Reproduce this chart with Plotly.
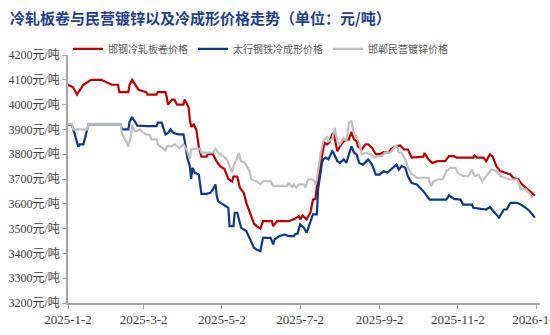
import plotly.graph_objects as go

# ---------------- data ----------------
red_name = "邯钢冷轧板卷价格"
red_dates = ["2025-01-02","2025-01-06","2025-01-09","2025-01-14","2025-01-20","2025-01-28","2025-02-05","2025-02-10",
             "2025-02-11","2025-02-18","2025-02-19","2025-02-21","2025-02-26","2025-03-04","2025-03-05","2025-03-12",
             "2025-03-13","2025-03-19","2025-03-20","2025-03-21","2025-03-24","2025-03-26","2025-03-28","2025-04-02",
             "2025-04-03","2025-04-06","2025-04-07","2025-04-08","2025-04-10","2025-04-12","2025-04-14","2025-04-16",
             "2025-04-20","2025-04-21","2025-04-25","2025-04-28","2025-05-01","2025-05-04","2025-05-07","2025-05-10",
             "2025-05-11","2025-05-14","2025-05-16","2025-05-19","2025-05-21","2025-05-24","2025-05-27","2025-05-29",
             "2025-06-01","2025-06-03","2025-06-10","2025-06-11","2025-06-14","2025-06-23","2025-06-28","2025-07-01",
             "2025-07-02","2025-07-04","2025-07-07","2025-07-10","2025-07-12","2025-07-14","2025-07-15","2025-07-18",
             "2025-07-20","2025-07-21","2025-07-23","2025-07-25","2025-07-27","2025-07-28","2025-07-31","2025-08-02",
             "2025-08-05","2025-08-09","2025-08-11","2025-08-13","2025-08-15","2025-08-16","2025-08-19","2025-08-22",
             "2025-08-24","2025-08-27","2025-08-30","2025-09-02","2025-09-05","2025-09-09","2025-09-11","2025-09-15",
             "2025-09-18","2025-09-21","2025-09-24","2025-09-27","2025-10-06","2025-10-07","2025-10-10","2025-10-13",
             "2025-10-17","2025-10-23","2025-10-26","2025-10-30","2025-11-01","2025-11-14","2025-11-15","2025-11-17",
             "2025-11-22","2025-11-24","2025-11-27","2025-11-29","2025-12-02","2025-12-05","2025-12-09","2025-12-13",
             "2025-12-15","2025-12-19","2025-12-22","2025-12-26","2025-12-28","2026-01-01"]
red_vals = [4080,4070,4040,4080,4100,4100,4080,4080,
            4050,4050,4080,4100,4060,4050,4040,4040,
            4050,4050,4030,4000,4020,4020,4000,4000,
            4020,3990,3940,3910,3920,3900,3830,3790,
            3790,3800,3800,3770,3750,3740,3700,3690,
            3710,3710,3665,3645,3605,3565,3520,3510,
            3500,3530,3530,3510,3530,3530,3540,3550,
            3537,3553,3537,3564,3617,3620,3670,3765,
            3832,3846,3840,3850,3880,3886,3812,3832,
            3852,3860,3890,3860,3852,3832,3819,3840,
            3840,3826,3800,3800,3808,3806,3822,3832,
            3835,3819,3819,3786,3790,3805,3779,3765,
            3772,3772,3792,3792,3786,3786,3795,3786,
            3786,3772,3800,3790,3752,3732,3725,3718,
            3705,3698,3678,3658,3651,3634]

blue_name = "太行钢铁冷成形价格"
blue_dates = ["2025-01-02","2025-01-05","2025-01-07","2025-01-09","2025-01-10","2025-01-11","2025-01-14","2025-01-16",
              "2025-01-18","2025-02-12","2025-02-13","2025-02-18","2025-02-19","2025-02-21","2025-02-23","2025-02-25",
              "2025-03-04","2025-03-12","2025-03-13","2025-03-16","2025-03-19","2025-03-21","2025-03-23","2025-03-25",
              "2025-03-29","2025-04-02","2025-04-03","2025-04-05","2025-04-07","2025-04-08","2025-04-09","2025-04-11",
              "2025-04-14","2025-04-16","2025-04-20","2025-04-23","2025-04-25","2025-04-27","2025-04-28","2025-04-29",
              "2025-05-03","2025-05-07","2025-05-08","2025-05-11","2025-05-12","2025-05-14","2025-05-16","2025-05-17",
              "2025-05-21","2025-05-24","2025-05-27","2025-05-29","2025-06-01","2025-06-03","2025-06-09","2025-06-11",
              "2025-06-12","2025-06-16","2025-06-20","2025-06-23","2025-06-27","2025-06-28","2025-06-30","2025-07-02",
              "2025-07-05","2025-07-07","2025-07-10","2025-07-12","2025-07-15","2025-07-16","2025-07-19","2025-07-20",
              "2025-07-22","2025-07-24","2025-07-27","2025-07-28","2025-07-31","2025-08-02","2025-08-05","2025-08-07",
              "2025-08-11","2025-08-13","2025-08-15","2025-08-17","2025-08-20","2025-08-24","2025-08-27","2025-08-30",
              "2025-09-02","2025-09-05","2025-09-08","2025-09-11","2025-09-15","2025-09-17","2025-09-19","2025-09-22",
              "2025-09-24","2025-09-27","2025-10-01","2025-10-06","2025-10-11","2025-10-24","2025-10-26","2025-10-30",
              "2025-11-04","2025-11-06","2025-11-13","2025-11-14","2025-11-21","2025-11-24","2025-11-27","2025-12-01",
              "2025-12-04","2025-12-08","2025-12-10","2025-12-13","2025-12-18","2025-12-21","2025-12-25","2025-12-28",
              "2026-01-01"]
blue_vals = [3920,3917,3886,3840,3830,3840,3840,3880,
             3920,3920,3900,3900,3930,3950,3933,3915,
             3913,3913,3927,3927,3880,3886,3900,3886,
             3880,3880,3853,3786,3752,3700,3745,3725,
             3718,3640,3640,3644,3658,3678,3631,3611,
             3597,3584,3510,3510,3564,3564,3523,3503,
             3490,3456,3423,3416,3409,3463,3463,3436,
             3456,3470,3476,3470,3470,3477,3480,3517,
             3503,3483,3530,3557,3557,3658,3765,3779,
             3786,3779,3812,3806,3772,3765,3779,3765,
             3832,3806,3799,3765,3758,3779,3758,3718,
             3718,3732,3725,3738,3758,3738,3752,3745,
             3711,3684,3678,3651,3617,3617,3634,3620,
             3617,3597,3597,3584,3577,3577,3587,3564,
             3544,3577,3577,3604,3604,3597,3584,3570,
             3544]

gray_name = "邯郸民营镀锌价格"
gray_dates = ["2025-01-02","2025-01-05","2025-01-06","2025-01-17","2025-01-18","2025-02-12","2025-02-13","2025-02-14",
              "2025-02-17","2025-02-18","2025-02-20","2025-02-21","2025-02-23","2025-02-25","2025-02-27","2025-03-01",
              "2025-03-04","2025-03-07","2025-03-08","2025-03-12","2025-03-13","2025-03-16","2025-03-19","2025-03-20",
              "2025-03-24","2025-03-26","2025-03-30","2025-04-02","2025-04-05","2025-04-07","2025-04-08","2025-04-10",
              "2025-04-15","2025-04-16","2025-04-25","2025-04-27","2025-04-29","2025-05-03","2025-05-06","2025-05-08",
              "2025-05-10","2025-05-11","2025-05-14","2025-05-15","2025-05-17","2025-05-20","2025-05-23","2025-05-25",
              "2025-05-29","2025-06-01","2025-06-03","2025-06-09","2025-06-11","2025-06-22","2025-06-23","2025-06-26",
              "2025-06-27","2025-06-29","2025-07-01","2025-07-05","2025-07-06","2025-07-08","2025-07-12","2025-07-14",
              "2025-07-15","2025-07-18","2025-07-20","2025-07-23","2025-07-24","2025-07-27","2025-07-29","2025-07-31",
              "2025-08-02","2025-08-05","2025-08-07","2025-08-09","2025-08-11","2025-08-13","2025-08-15","2025-08-17",
              "2025-08-19","2025-08-22","2025-08-26","2025-08-29","2025-09-01","2025-09-04","2025-09-06","2025-09-10",
              "2025-09-13","2025-09-15","2025-09-17","2025-09-19","2025-09-22","2025-09-24","2025-09-27","2025-10-01",
              "2025-10-10","2025-10-12","2025-10-14","2025-10-17","2025-10-21","2025-10-24","2025-10-27","2025-10-31",
              "2025-11-02","2025-11-06","2025-11-10","2025-11-13","2025-11-15","2025-11-18","2025-11-21","2025-11-24",
              "2025-11-28","2025-12-02","2025-12-05","2025-12-09","2025-12-12","2025-12-18","2025-12-19","2025-12-21",
              "2025-12-25","2025-12-28","2025-12-30"]
gray_vals = [3920,3920,3900,3900,3920,3920,3886,3873,
             3846,3830,3873,3920,3893,3893,3900,3890,
             3880,3877,3860,3860,3840,3826,3815,3832,
             3832,3840,3825,3840,3812,3781,3819,3822,
             3822,3806,3806,3822,3806,3792,3779,3752,
             3726,3752,3786,3806,3772,3765,3738,3698,
             3691,3678,3691,3691,3672,3672,3685,3665,
             3678,3665,3678,3678,3665,3698,3698,3678,
             3698,3806,3852,3873,3852,3860,3906,3852,
             3840,3866,3852,3927,3933,3880,3873,3846,
             3799,3806,3799,3786,3792,3792,3806,3806,
             3826,3835,3806,3806,3779,3745,3720,3705,
             3705,3671,3691,3698,3698,3732,3745,3745,
             3725,3711,3711,3738,3711,3718,3691,3711,
             3738,3732,3711,3705,3698,3698,3691,3658,
             3658,3642,3624]

y_tickvals = [3200, 3300, 3400, 3500, 3600, 3700, 3800, 3900, 4000, 4100, 4200]
y_ticktext = [f"{v}元/吨" for v in y_tickvals]
x_tickvals = ["2025-01-02", "2025-03-02", "2025-05-02", "2025-07-02", "2025-09-02", "2025-11-02", "2026-01-02"]
x_ticktext = ["2025-1-2", "2025-3-2", "2025-5-2", "2025-7-2", "2025-9-2", "2025-11-2", "2026-1-2"]

title_text = "冷轧板卷与民营镀锌以及冷成形价格走势（单位：元/吨）"

# ---------------- figure ----------------
fig = go.Figure()
series = [
    (red_name, red_dates, red_vals, "#C00000"),
    (blue_name, blue_dates, blue_vals, "#0D3A8C"),
    (gray_name, gray_dates, gray_vals, "#C0C0C0"),
]
for name, d, v, c in series:
    fig.add_trace(go.Scatter(x=d, y=v, name=name, mode="lines",
                             line=dict(color=c, width=2.2)))

tick_font = dict(family="Liberation Serif, Noto Sans CJK SC, serif", size=12, color="#404040")

fig.update_layout(
    width=550, height=335,
    margin=dict(l=68, r=10, t=55, b=32, autoexpand=False),
    paper_bgcolor="white", plot_bgcolor="white",
    title=dict(text=title_text, x=0.018, xanchor="left", y=0.945, yanchor="middle",
               font=dict(family="Noto Sans CJK SC", size=15, color="#1F3F8F", weight="bold")),
    showlegend=True,
    legend=dict(orientation="h", x=0.0, xanchor="left", y=1.025, yanchor="middle",
                font=dict(family="Noto Sans CJK SC", size=10, color="#595959"),
                bgcolor="rgba(0,0,0,0)", itemwidth=30, tracegroupgap=0),
    xaxis=dict(type="date", range=["2025-01-02", "2026-01-05"],
               tickvals=x_tickvals, ticktext=x_ticktext, tickangle=0,
               ticklabeloverflow="allow", automargin=False,
               showgrid=False, zeroline=False,
               showline=True, linecolor="#A6A6A6", linewidth=1.5,
               ticks="outside", ticklen=4, tickcolor="#A6A6A6", tickwidth=1,
               tickfont=dict(family="Liberation Serif, serif", size=13, color="#404040")),
    yaxis=dict(range=[3200, 4200], tickvals=y_tickvals, ticktext=y_ticktext,
               automargin=False,
               showgrid=False, zeroline=False,
               showline=True, linecolor="#A6A6A6", linewidth=1.5,
               ticks="outside", ticklen=4, tickcolor="#A6A6A6", tickwidth=1,
               tickfont=tick_font),
)

fig.write_html("out.html")
